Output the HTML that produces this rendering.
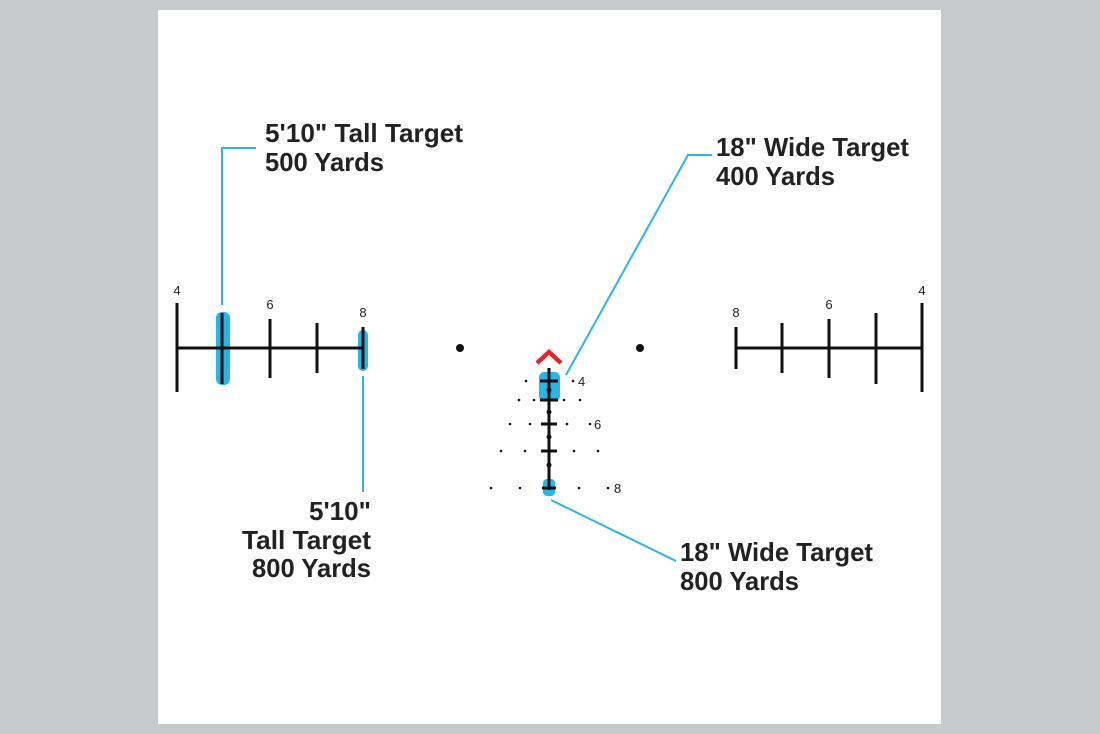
<!DOCTYPE html>
<html><head><meta charset="utf-8"><style>
html,body{margin:0;padding:0;background:#c8c9cb;}
svg{display:block}
text{font-family:"Liberation Sans",sans-serif;fill:#222;}
.b{font-weight:bold;font-size:26px;}
.n{font-size:13px;}
</style></head><body>
<svg width="1100" height="734" viewBox="0 0 1100 734">
<rect x="0" y="0" width="1100" height="734" fill="#c8c9cb"/>
<rect x="158" y="10" width="783" height="714" fill="#fff"/>
<!-- blue highlights -->
<g fill="#29b6e4">
<rect x="216" y="312" width="14" height="73" rx="6"/>
<rect x="358" y="330" width="10" height="41" rx="5"/>
<rect x="539" y="372" width="21" height="29" rx="5"/>
<rect x="543" y="479" width="12" height="17" rx="4"/>
</g>
<!-- left reticle -->
<g stroke="#111" stroke-width="3" fill="none">
<line x1="177" y1="348" x2="363" y2="348"/>
<line x1="177" y1="303" x2="177" y2="392"/>
<line x1="222" y1="313" x2="222" y2="384"/>
<line x1="270" y1="319" x2="270" y2="378"/>
<line x1="317" y1="323" x2="317" y2="373"/>
<line x1="363" y1="327" x2="363" y2="369"/>
<line x1="736" y1="348" x2="922" y2="348"/>
<line x1="922" y1="303" x2="922" y2="392"/>
<line x1="876" y1="313" x2="876" y2="384"/>
<line x1="829" y1="319" x2="829" y2="378"/>
<line x1="782" y1="323" x2="782" y2="373"/>
<line x1="736" y1="327" x2="736" y2="369"/>
<line x1="549" y1="368" x2="549" y2="490"/>
<line x1="540" y1="381" x2="558" y2="381"/>
<line x1="540" y1="400" x2="558" y2="400"/>
<line x1="541" y1="424" x2="557" y2="424"/>
<line x1="541" y1="451" x2="557" y2="451"/>
<line x1="542" y1="488" x2="556" y2="488"/>
</g>
<text class="n" x="177" y="295" text-anchor="middle">4</text>
<text class="n" x="270" y="309" text-anchor="middle">6</text>
<text class="n" x="363" y="317" text-anchor="middle">8</text>
<text class="n" x="922" y="295" text-anchor="middle">4</text>
<text class="n" x="829" y="309" text-anchor="middle">6</text>
<text class="n" x="736" y="317" text-anchor="middle">8</text>
<!-- dots -->
<g fill="#111">
<circle cx="460" cy="348" r="4"/><circle cx="640" cy="348" r="4"/>
<circle cx="549" cy="390" r="2.5"/><circle cx="549" cy="412" r="2.5"/><circle cx="549" cy="437" r="2.5"/><circle cx="549" cy="465" r="2.5"/>
<circle cx="526" cy="381" r="1.3"/><circle cx="573" cy="381" r="1.3"/>
<circle cx="519" cy="400" r="1.3"/><circle cx="534" cy="400" r="1.3"/><circle cx="564" cy="400" r="1.3"/><circle cx="580" cy="400" r="1.3"/>
<circle cx="510" cy="424" r="1.3"/><circle cx="530" cy="424" r="1.3"/><circle cx="567" cy="424" r="1.3"/><circle cx="590" cy="424" r="1.3"/>
<circle cx="501" cy="451" r="1.3"/><circle cx="525" cy="451" r="1.3"/><circle cx="574" cy="451" r="1.3"/><circle cx="598" cy="451" r="1.3"/>
<circle cx="491" cy="488" r="1.3"/><circle cx="520" cy="488" r="1.3"/><circle cx="579" cy="488" r="1.3"/><circle cx="608" cy="488" r="1.3"/>
</g>
<text class="n" x="578" y="386">4</text>
<text class="n" x="594" y="429">6</text>
<text class="n" x="614" y="493">8</text>
<!-- chevron -->
<polyline points="537,363 549,352 561,363" fill="none" stroke="#e3262b" stroke-width="4.5"/>
<!-- connectors -->
<g stroke="#29b6e4" stroke-width="2" fill="none">
<polyline points="222,305 222,148 256,148"/>
<line x1="363" y1="376" x2="363" y2="492"/>
<polyline points="566,375 688,155 712,155"/>
<line x1="551" y1="500" x2="676" y2="561"/>
</g>
<!-- labels -->
<text class="b" x="265" y="142" textLength="198" lengthAdjust="spacingAndGlyphs">5'10" Tall Target</text>
<text class="b" x="265" y="171" textLength="119" lengthAdjust="spacingAndGlyphs">500 Yards</text>
<text class="b" x="716" y="156" textLength="193" lengthAdjust="spacingAndGlyphs">18" Wide Target</text>
<text class="b" x="716" y="185" textLength="119" lengthAdjust="spacingAndGlyphs">400 Yards</text>
<text class="b" x="309" y="520" textLength="62" lengthAdjust="spacingAndGlyphs">5'10"</text>
<text class="b" x="242" y="549" textLength="129" lengthAdjust="spacingAndGlyphs">Tall Target</text>
<text class="b" x="252" y="577" textLength="119" lengthAdjust="spacingAndGlyphs">800 Yards</text>
<text class="b" x="680" y="561" textLength="193" lengthAdjust="spacingAndGlyphs">18" Wide Target</text>
<text class="b" x="680" y="590" textLength="119" lengthAdjust="spacingAndGlyphs">800 Yards</text>
</svg>
</body></html>
